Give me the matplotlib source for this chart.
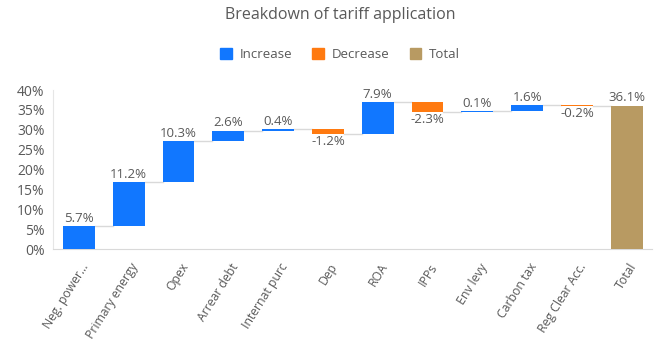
import numpy as np
import matplotlib
matplotlib.use('Agg')
import matplotlib.pyplot as plt
from matplotlib.patches import Patch
from matplotlib.transforms import ScaledTranslation

plt.rcParams['font.family'] = ['Open Sans', 'DejaVu Sans']

categories = ['Neg. power...', 'Primary energy', 'Opex', 'Arrear debt', 'Internat purc',
              'Dep', 'ROA', 'IPPs', 'Env levy', 'Carbon tax', 'Reg Clear Acc.', 'Total']
changes = [5.7, 11.2, 10.3, 2.6, 0.4, -1.2, 7.9, -2.3, 0.1, 1.6, -0.2]
total = 36.1

BLUE = '#1177FF'
ORANGE = '#FF7A10'
TAN = '#B89A62'
GREY = '#595959'

fig = plt.figure(figsize=(6.67, 3.44), dpi=100)
ax = fig.add_axes([0.0795, 0.276, 0.8975, 0.462])

x = np.arange(len(categories))
w = 0.64
run = 0.0
ends = []
for i, v in enumerate(changes):
    start = run
    run = run + v
    lo, hi = min(start, run), max(start, run)
    col = BLUE if v >= 0 else ORANGE
    ax.bar(x[i], (hi - lo) / 100, bottom=lo / 100, width=w, color=col, zorder=3)
    if v >= 0:
        ax.text(x[i], hi / 100 + 0.003, f'{v:.1f}%', ha='center', va='bottom',
                fontsize=9.5, color=GREY)
    else:
        ax.text(x[i], lo / 100 - 0.004, f'{v:.1f}%', ha='center', va='top',
                fontsize=9.5, color=GREY)
    ends.append(run)

ax.bar(x[-1], total / 100, width=w, color=TAN, zorder=3)
ax.text(x[-1], total / 100 + 0.003, f'{total:.1f}%', ha='center', va='bottom',
        fontsize=9.5, color=GREY)

# connector lines between bars
for i, lvl in enumerate(ends):
    ax.plot([x[i] + w / 2, x[i + 1] - w / 2], [lvl / 100, lvl / 100],
            color='#D9D9D9', lw=1.0, zorder=2)

ax.set_xlim(-0.52, 11.50)
ax.set_ylim(0, 0.40)
yt = np.arange(0, 0.41, 0.05)
ax.set_yticks(yt)
ax.set_yticklabels([f'{int(round(t * 100))}%' for t in yt])
ax.set_xticks(x)
ax.set_xticklabels(categories, rotation=58, ha='right', va='center',
                   rotation_mode='anchor')
ax.tick_params(axis='both', length=0, colors=GREY)
ax.tick_params(axis='y', labelsize=10, pad=6)
ax.tick_params(axis='x', labelsize=8.8, pad=11)
shift = ScaledTranslation(7 / 100, 0, fig.dpi_scale_trans)
for lab in ax.get_xticklabels():
    lab.set_transform(lab.get_transform() + shift)

for s in ['top', 'right']:
    ax.spines[s].set_visible(False)
ax.spines['left'].set_color('#E6E6E6')
ax.spines['bottom'].set_color('#D9D9D9')

fig.text(0.51, 0.956, 'Breakdown of tariff application', ha='center', va='center',
         fontsize=11.5, color=GREY)
handles = [Patch(color=BLUE, label='Increase'), Patch(color=ORANGE, label='Decrease'),
           Patch(color=TAN, label='Total')]
fig.legend(handles=handles, loc='center', bbox_to_anchor=(0.51, 0.842), ncol=3,
           frameon=False, fontsize=9.5, labelcolor=GREY, handlelength=0.9,
           handleheight=0.9, columnspacing=1.5, handletextpad=0.6)

fig.savefig('out.png', dpi=100)
